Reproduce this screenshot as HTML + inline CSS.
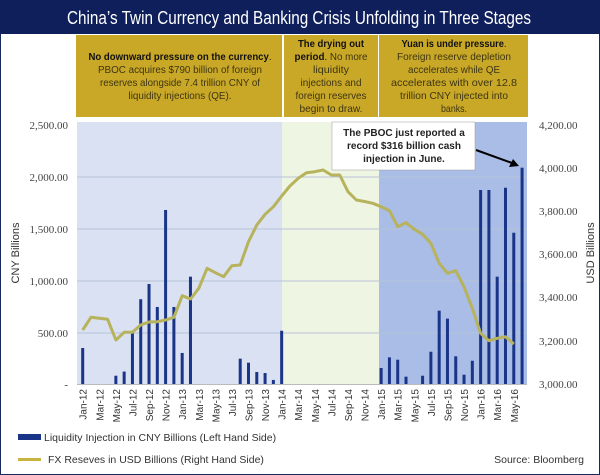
<!DOCTYPE html>
<html><head><meta charset="utf-8"><style>
html,body{margin:0;padding:0;background:#fff}
svg{display:block;font-family:"Liberation Sans",sans-serif}
</style></head><body>
<svg width="600" height="475" viewBox="0 0 600 475" xmlns="http://www.w3.org/2000/svg">
<rect x="0.5" y="0.5" width="599" height="474" fill="#fff" stroke="#1a2a5e" stroke-width="1"/>
<rect x="0" y="0" width="600" height="34" fill="#0e1f5b"/>
<text x="299" y="24" fill="#fff" font-size="18" text-anchor="middle" textLength="464" lengthAdjust="spacingAndGlyphs">China’s Twin Currency and Banking Crisis Unfolding in Three Stages</text>
<!-- regions -->
<rect x="77" y="122" width="205" height="262" fill="#d9e1f2"/>
<rect x="282" y="122" width="97" height="262" fill="#eff5e3"/>
<rect x="379" y="122" width="148" height="262" fill="#a9bde6"/>
<!-- yellow boxes -->
<rect x="76" y="35" width="206" height="82" fill="#c9a827"/>
<rect x="284" y="35" width="94" height="82" fill="#c9a827"/>
<rect x="379" y="35" width="149" height="82" fill="#c9a827"/>
<g font-size="10.5" text-anchor="middle" fill="#3d3512" lengthAdjust="spacingAndGlyphs">
<text x="180" y="60" textLength="183" lengthAdjust="spacingAndGlyphs"><tspan fill="#111" font-weight="bold">No downward pressure on the currency</tspan><tspan fill="#111">.</tspan></text>
<text x="180" y="73" textLength="164" lengthAdjust="spacingAndGlyphs">PBOC acquires $790 billion of foreign</text>
<text x="180" y="86" textLength="160" lengthAdjust="spacingAndGlyphs">reserves alongside 7.4 trillion CNY of</text>
<text x="180" y="99" textLength="103" lengthAdjust="spacingAndGlyphs">liquidity injections (QE).</text>
<text x="331" y="47" fill="#111" font-weight="bold" textLength="66" lengthAdjust="spacingAndGlyphs">The drying out</text>
<text x="331" y="60" textLength="73" lengthAdjust="spacingAndGlyphs"><tspan fill="#111" font-weight="bold">period</tspan><tspan fill="#111">.</tspan> No more</text>
<text x="331" y="73" textLength="36" lengthAdjust="spacingAndGlyphs">liquidity</text>
<text x="331" y="86" textLength="61" lengthAdjust="spacingAndGlyphs">injections and</text>
<text x="331" y="99" textLength="71" lengthAdjust="spacingAndGlyphs">foreign reserves</text>
<text x="331" y="112" textLength="63" lengthAdjust="spacingAndGlyphs">begin to draw.</text>
<text x="454" y="47" textLength="105" lengthAdjust="spacingAndGlyphs"><tspan fill="#111" font-weight="bold">Yuan is under pressure</tspan><tspan fill="#111">.</tspan></text>
<text x="454" y="60" textLength="114" lengthAdjust="spacingAndGlyphs">Foreign reserve depletion</text>
<text x="454" y="73" textLength="92" lengthAdjust="spacingAndGlyphs">accelerates while QE</text>
<text x="454" y="86" textLength="126" lengthAdjust="spacingAndGlyphs">accelerates with over 12.8</text>
<text x="454" y="99" textLength="108" lengthAdjust="spacingAndGlyphs">trillion CNY injected into</text>
<text x="454" y="112" textLength="26" lengthAdjust="spacingAndGlyphs">banks.</text>
</g>
<!-- gridlines -->
<g stroke="#b8c2d8" stroke-width="1">
<line x1="77" x2="527" y1="177" y2="177"/><line x1="77" x2="527" y1="229" y2="229"/>
<line x1="77" x2="527" y1="281" y2="281"/><line x1="77" x2="527" y1="333" y2="333"/>
</g>
<line x1="77" x2="527" y1="384.5" y2="384.5" stroke="#bbb"/>
<!-- left ticks -->
<g font-family="Liberation Serif,serif" font-size="11" fill="#444" text-anchor="end">
<text x="68" y="129">2,500.00</text><text x="68" y="181">2,000.00</text><text x="68" y="233">1,500.00</text>
<text x="68" y="285">1,000.00</text><text x="68" y="337">500.00</text><text x="68" y="388">-</text>
</g>
<g font-family="Liberation Serif,serif" font-size="11" fill="#444">
<text x="539" y="129">4,200.00</text><text x="539" y="172">4,000.00</text><text x="539" y="215">3,800.00</text>
<text x="539" y="258">3,600.00</text><text x="539" y="301">3,400.00</text><text x="539" y="345">3,200.00</text><text x="539" y="388">3,000.00</text>
</g>
<text transform="translate(19,253) rotate(-90)" font-size="11" fill="#333" text-anchor="middle">CNY Billions</text>
<text transform="translate(594,253) rotate(-90)" font-size="11" fill="#333" text-anchor="middle">USD Billions</text>
<!-- bars -->
<g fill="#1a3487" id="bars"></g>
<polyline id="fx" fill="none" stroke="#b7b35c" stroke-width="3" stroke-linejoin="round"/>
<g id="xl" font-size="10" fill="#333"></g>
<!-- callout -->
<rect x="332" y="122" width="143" height="48" fill="#fff" stroke="#999" stroke-width="0.5"/>
<g font-size="10" font-weight="bold" fill="#222" text-anchor="middle">
<text x="404" y="136">The PBOC just reported a</text>
<text x="404" y="149">record $316 billion cash</text>
<text x="404" y="162">injection in June.</text>
</g>
<line x1="476" y1="150" x2="512" y2="163" stroke="#000" stroke-width="2"/>
<polygon points="519,166 509,167 513,159" fill="#000"/>
<!-- legend -->
<rect x="18" y="434" width="23" height="6" fill="#1a3487"/>
<text x="44" y="441" font-size="10.5" fill="#333">Liquidity Injection in CNY Billions (Left Hand Side)</text>
<rect x="18" y="458" width="23" height="3" fill="#c9b440"/>
<text x="48" y="463" font-size="10.5" fill="#333">FX Reseves in USD Billions (Right Hand Side)</text>
<text x="584" y="463" font-size="10.5" fill="#333" text-anchor="end">Source: Bloomberg</text>
</svg>
<script>
var bars={0:348,4:80,5:120,6:490,7:820,8:967,9:745,10:1683,11:745,12:300,13:1038,19:245,20:206,21:116,22:106,23:39,24:515,36:155,37:258,38:235,39:71,41:80,42:312,43:709,44:632,45:268,46:90,47:225,48:1876,49:1876,50:1038,51:1898,52:1463,53:2092};
var ns="http://www.w3.org/2000/svg",g=document.getElementById('bars');
function X(i){return 82.7+8.29*i;}
for(var k in bars){var r=document.createElementNS(ns,'rect');var h=bars[k]*0.1034;
r.setAttribute('x',X(+k)-1.5);r.setAttribute('y',384-h);r.setAttribute('width',3);r.setAttribute('height',h);g.appendChild(r);}
var ly=[330,317.3,318.3,319.3,340,332.3,332.3,325,322,321.7,320,317.3,295.7,299,288.3,268.3,272.7,276.7,265.7,265,241.7,225,214.3,206.7,196,186,178.3,172.7,171.7,170,175,175,191.7,200,201.5,203.3,206.7,210.7,226.7,222.7,229.3,234.3,243.3,263.3,273.3,270.7,286.7,308.3,333.3,340.7,338.3,336.7,344];
var p=ly.map(function(y,i){return X(i).toFixed(1)+','+y;}).join(' ');
document.getElementById('fx').setAttribute('points',p);
var m=['Jan','Mar','May','Jul','Sep','Nov'],xl=document.getElementById('xl');
for(var i=0;i<54;i+=2){var t=document.createElementNS(ns,'text');var yr=12+Math.floor(i/12);
t.textContent=m[(i%12)/2]+'-'+yr;t.setAttribute('text-anchor','end');
t.setAttribute('transform','translate('+(X(i)+4)+',389) rotate(-90)');xl.appendChild(t);}
</script>
</body></html>
